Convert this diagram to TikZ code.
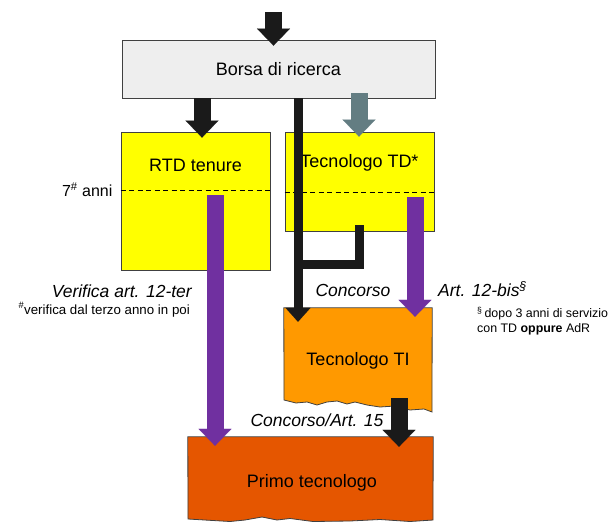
\documentclass[tikz,border=0pt]{standalone}
\usepackage{fontspec}
\setmainfont{Liberation Sans}
\usetikzlibrary{positioning, arrows.meta}

\definecolor{borsagray}{RGB}{238,238,238}
\definecolor{rtdyellow}{RGB}{255,255,0}
\definecolor{tiorange}{RGB}{255,153,0}
\definecolor{primoorange}{RGB}{229,86,0}
\definecolor{artpurple}{RGB}{112,48,160}
\definecolor{slate}{RGB}{99,125,130}
\definecolor{ink}{RGB}{26,26,26}

\begin{document}
\begin{tikzpicture}[
    x=1pt, y=-1pt,
    box/.style={
        rectangle,
        draw=black!75,
        line width=0.8pt,
        inner sep=0pt
    },
    boxtext/.style={
        font=\fontsize{18}{21}\selectfont,
        inner sep=0pt
    },
    via/.style={
        font=\fontsize{17.5}{20}\selectfont\itshape,
        inner sep=0pt
    },
    note/.style={
        font=\fontsize{13.3}{15}\selectfont,
        align=left,
        inner sep=0pt
    },
    divider/.style={
        dash pattern=on 5pt off 3.5pt,
        line width=0.8pt
    },
    bigarrow/.style={
        line width=17pt,
        -{Triangle[length=17pt, width=33pt, line width=0.1pt]}
    },
    track/.style={
        line width=9pt,
        draw=ink
    }
]
\useasboundingbox (0,0) rectangle (610,522);

\node[box, boxtext, fill=borsagray, minimum width=313pt, minimum height=58pt] (borsa) at (278.5,69) {Borsa di ricerca};
\node[box, fill=rtdyellow, minimum width=149pt, minimum height=138pt] (rtd) at (195.5,201) {};
\node[box, fill=rtdyellow, minimum width=149pt, minimum height=99pt] (td) at (359.5,181.5) {};
\node[boxtext] (rtdlbl) at ([yshift=-34pt]rtd.north) {RTD tenure};
\node[boxtext] (tdlbl) at ([yshift=-31pt]td.north) {Tecnologo TD*};

% torn boxes
\node[inner sep=0pt, minimum width=148pt, minimum height=98pt] (ti) at (358,357) {};
\filldraw[fill=tiorange, draw=black!75, line width=0.8pt]
    (ti.north west) -- (ti.north east) -- (432,412) -- (424,409) -- (410,410) -- (395,406)
    -- (380,407) -- (367,405) -- (355,402) -- (347,404) -- (337,401) -- (327,402)
    -- (317,405) -- (307,402) -- (296,403) -- (284,400) -- cycle;
\node[boxtext] (tilbl) at ([yshift=-4pt]ti.center) {Tecnologo TI};

\node[inner sep=0pt, minimum width=245pt, minimum height=83pt] (primo) at (310.5,478.5) {};
\filldraw[fill=primoorange, draw=black!75, line width=0.8pt]
    (primo.north west) -- (primo.north east) -- (433,520) -- (410,521.5) -- (380,519.5)
    -- (350,521) -- (313,521.5) -- (290,518.5) -- (277,520) -- (262,517) -- (245,520)
    -- (230,521.5) -- (213,520.5) -- (188,519) -- cycle;
\node[boxtext] (primolbl) at ([xshift=1.5pt, yshift=-4pt]primo.center) {Primo tecnologo};

% years line
\coordinate (rtdcut) at ([yshift=11pt]rtd.west);
\coordinate (tdcut) at ([yshift=-10.5pt]td.west);
\draw[divider] (rtdcut) -- (rtdcut -| rtd.east);
\draw[divider] (tdcut) -- (tdcut -| td.east);
\node[font=\fontsize{16}{19}\selectfont, inner sep=0pt, left=8pt of rtdcut] (anni) {7\textsuperscript{\#} anni};

% labels
\node[via, anchor=base east] (verifica) at (192,297.3) {Verifica art. 12-ter};
\node[note, anchor=base east] (verificanote) at (190,314) {\textsuperscript{\#}verifica dal terzo anno in poi};
\node[via, anchor=base] (concorso) at (353,296.3) {Concorso};
\node[via, anchor=base west] (art12bis) at (438,296.3) {Art. 12-bis\textsuperscript{\S}};
\node[note, font=\fontsize{12.4}{15}\selectfont, anchor=north west] (bisnote) at (477,307) {\textsuperscript{\S}\,dopo 3 anni di servizio\\con TD \textbf{oppure} AdR};
\node[via, anchor=base] (concart) at (317,426.3) {Concorso/Art. 15};

% arrows
\coordinate (entry) at (273.5,12);
\coordinate (toRtd) at (202,0);
\coordinate (toTd) at (359,0);
\coordinate (merge) at (298,264);
\coordinate (rtdout) at (215,195);
\coordinate (tdout) at (415,197);
\coordinate (tiout) at (399,398);

\draw[bigarrow, draw=ink, shorten >=-6pt] (entry) -- (entry |- borsa.north);
\draw[bigarrow, draw=ink, shorten >=-6pt] (borsa.south -| toRtd) -- (rtd.north -| toRtd);
\draw[bigarrow, draw=slate, shorten <=-5pt, shorten >=-5pt] (borsa.south -| toTd) -- (td.north -| toTd);
\draw[track, -{Triangle[length=14pt, width=25pt, line width=0.1pt]}, shorten >=-14pt] (borsa.south -| merge) -- (ti.north -| merge);
\draw[track] ([yshift=6pt]td.south) |- (merge);
\draw[bigarrow, draw=artpurple, shorten >=-9pt] (rtdout) -- (rtdout |- primo.north);
\draw[bigarrow, draw=artpurple, shorten >=-9pt] (tdout) -- (tdout |- ti.north);
\draw[bigarrow, draw=ink, shorten >=-10pt] (tiout) -- (tiout |- primo.north);

\end{tikzpicture}
\end{document}
